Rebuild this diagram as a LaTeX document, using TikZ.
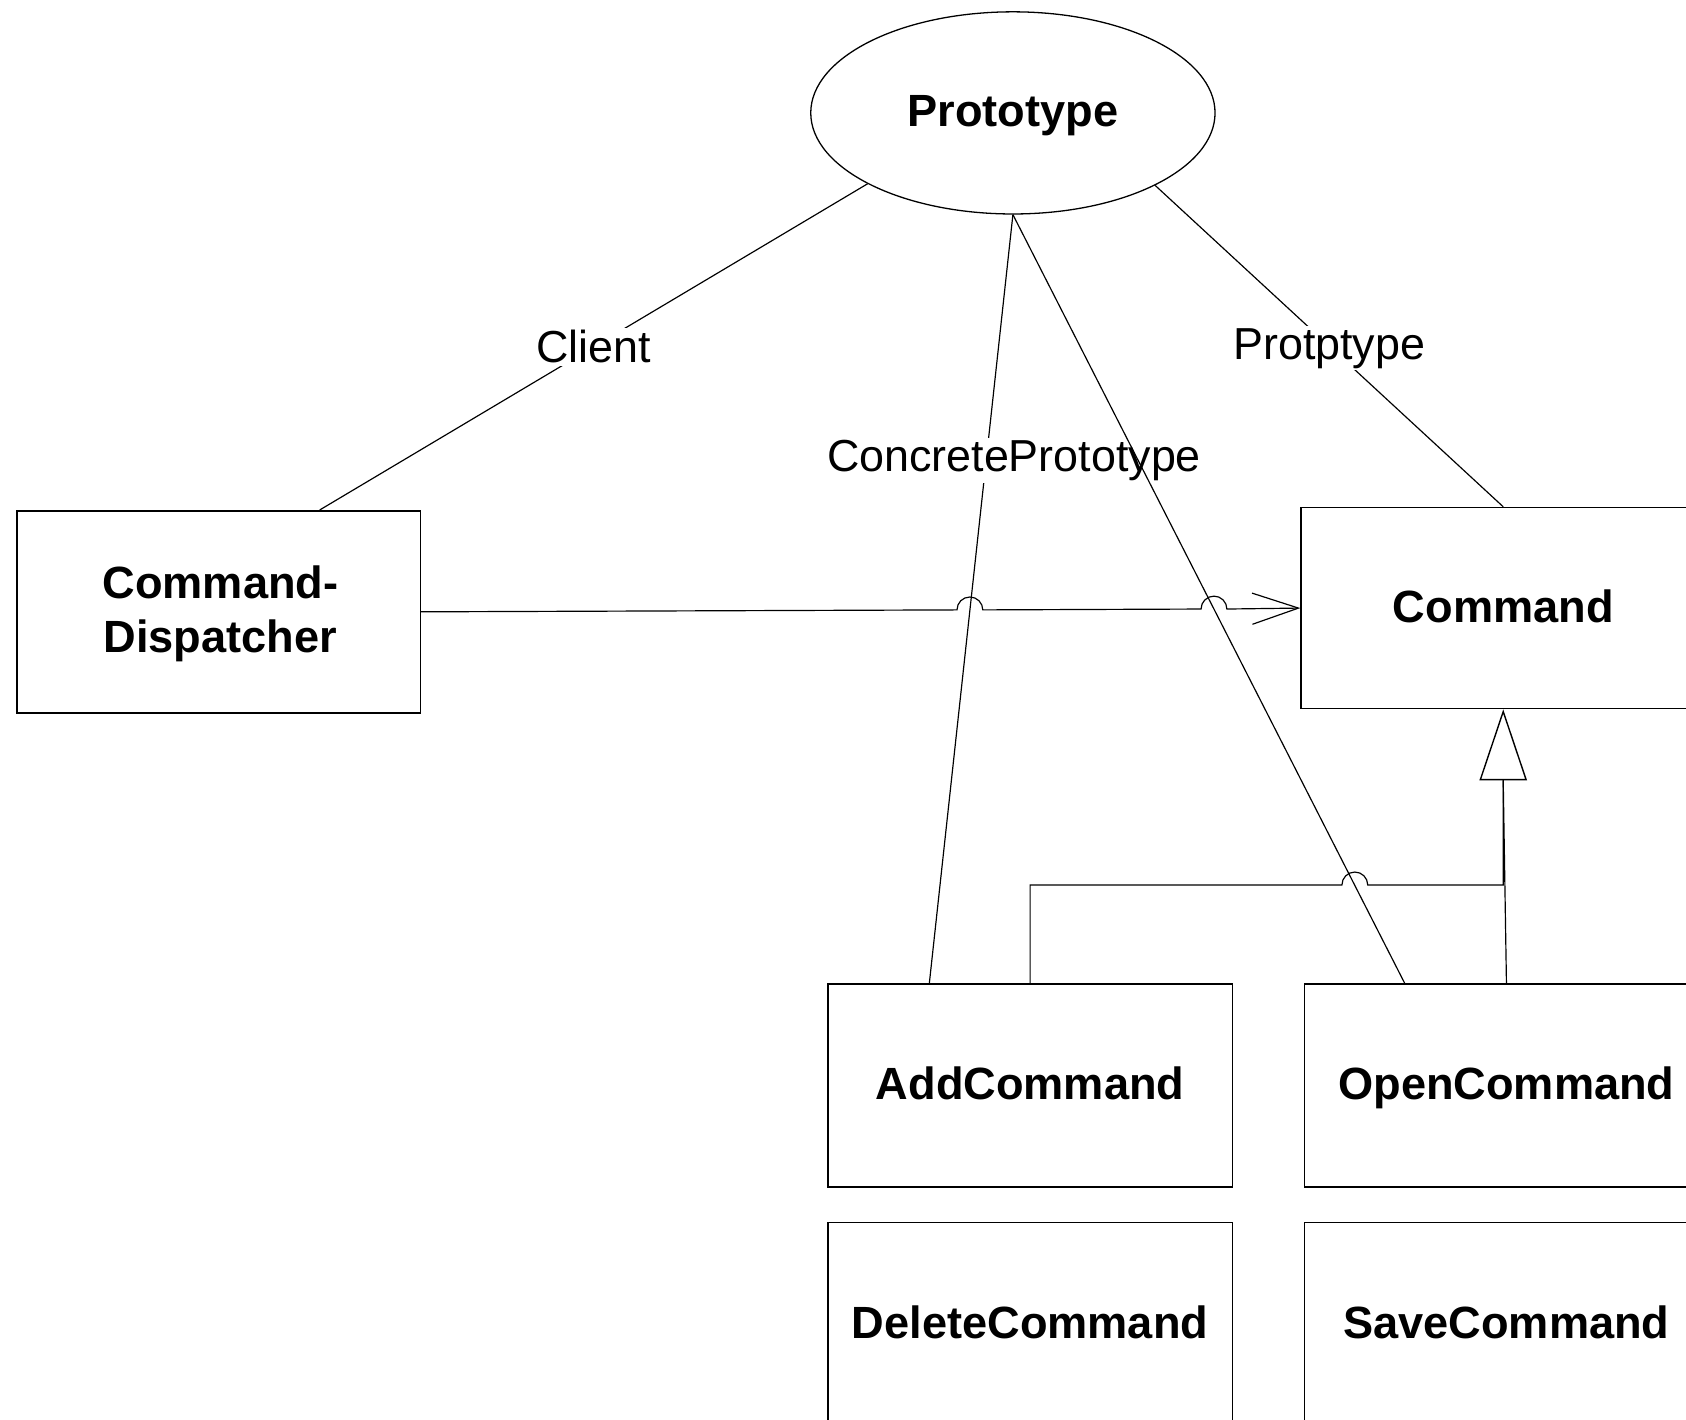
\documentclass[tikz,border=0pt]{standalone}
\usepackage{fontspec}
\setmainfont{Liberation Sans}
\usetikzlibrary{shapes.geometric,arrows.meta,calc}
\tikzset{
  boldtxt/.style={font=\fontsize{42}{50}\selectfont\bfseries},
  cls/.style={draw, line width=1.4pt, rectangle, minimum width=376pt, minimum height=189pt, inner sep=0pt, boldtxt, align=center, text height=32pt, text depth=6pt},
  proto/.style={draw, line width=1.2pt, ellipse, minimum width=376pt, minimum height=188pt, inner sep=0pt, boldtxt, text height=32pt, text depth=6pt},
  conn/.style={line width=1.1pt},
  lbl/.style={fill=white, inner sep=2pt, font=\fontsize{41.7}{48}\selectfont}
}
\begin{document}
\begin{tikzpicture}[x=1pt,y=-1pt]
\clip (0,0) rectangle (1568,1320);
\fill[white] (0,0) rectangle (1568,1320);

\node[proto] (P) at (942,105) {Prototype};
\node[draw, line width=1.4pt, rectangle, minimum width=375pt, minimum height=188pt, inner sep=0pt, boldtxt, align=center] (CD) at (203.5,569) {};
\node[boldtxt, align=center] (CDt) at (205,571) {Command-\\Dispatcher};
\node[cls, minimum height=187pt] (C) at (1398,565.5) {Command};
\node[cls] (Add) at (958,1009.5) {AddCommand};
\node[cls] (Open) at (1401,1009.5) {OpenCommand};
\node[cls] (Del) at (958,1231.5) {DeleteCommand};
\node[cls] (Save) at (1401,1231.5) {SaveCommand};

% Client
\draw[conn] (P.206.7) -- node[lbl, pos=0.5] {Client} ($(CD.north west)+(282,0)$);
% Protptype
\draw[conn] (P.333.3) -- node[lbl, pos=0.5, yshift=-2pt] {Protptype} (C.north);
% ConcretePrototype to AddCommand
\draw[conn] (P.south) -- ($(Add.north west)+(95,0)$);
\node[lbl] (cpl) at (943,428) {ConcretePrototype};
% ConcretePrototype to OpenCommand (drawn over the label)
\draw[conn] (P.south) -- ($(Open.north west)+(94,0)$);

% Dispatcher -> Command with line hops
\draw[conn, -{Straight Barb[length=43pt,width=29pt,line width=1.1pt]}]
  (CD.east) -- (890,567.2) arc[start angle=180, end angle=0, radius=12pt]
  -- (1117,566.4) arc[start angle=180, end angle=0, radius=12pt]
  -- (C.west);

% Generalization
\draw[conn, -{Triangle[open, fill=white, length=66pt, width=44pt, line width=1.3pt]}]
  (Add.north) -- (958,823) -- (1248,823) arc[start angle=180, end angle=0, radius=12pt]
  -- (1398,823) -- (C.south);
\draw[conn] (Open.north) -- ($(C.south)+(0,66)$);
\end{tikzpicture}
\end{document}
